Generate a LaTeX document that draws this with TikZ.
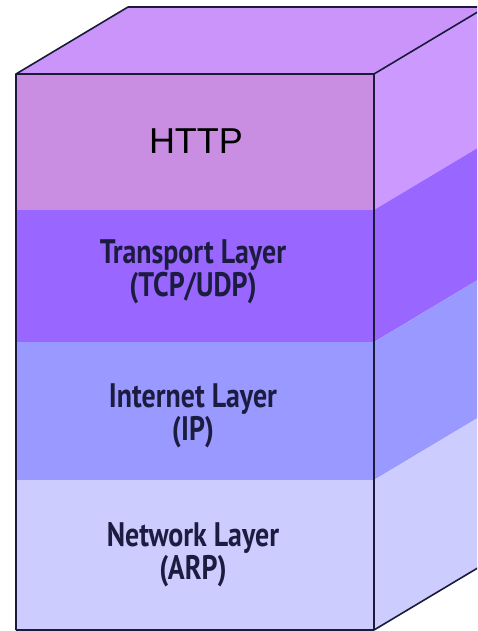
\documentclass[tikz,border=0pt]{standalone}
\usepackage{fontspec}
\usepackage{xcolor}
\setmainfont{Liberation Sans}
\newfontfamily\layerfont[FakeStretch=0.82]{PT Sans}

\definecolor{edgeblue}{RGB}{26,26,58}
\definecolor{labelblue}{RGB}{28,28,64}
\definecolor{topface}{RGB}{202,148,250}
\definecolor{httpfront}{RGB}{201,142,226}
\definecolor{httpside}{RGB}{204,153,255}
\definecolor{tcpface}{RGB}{153,102,255}
\definecolor{ipface}{RGB}{153,153,255}
\definecolor{arpface}{RGB}{204,204,255}

\begin{document}
\begin{tikzpicture}[x=1pt,y=-1pt,line width=1.6pt,
    edge/.style={draw=edgeblue,line join=round},
    applabel/.style={font=\fontsize{36}{40}\selectfont,text=black},
    layerlabel/.style={font=\layerfont\bfseries\fontsize{34}{33}\selectfont,text=labelblue,align=center}]
  \useasboundingbox (0,0) rectangle (477,631);
  \clip (0,0) rectangle (477,631);

  % top face
  \fill[topface] (16,74) -- (128,7) -- (486,7) -- (374,74) -- cycle;

  % front face, one band per layer
  \fill[httpfront] (16,74)  rectangle (374,210);
  \fill[tcpface]   (16,210) rectangle (374,342);
  \fill[ipface]    (16,342) rectangle (374,480);
  \fill[arpface]   (16,480) rectangle (374,630);

  % side face
  \fill[httpside] (374,74)  -- (486,7)   -- (486,143) -- (374,210) -- cycle;
  \fill[tcpface]  (374,210) -- (486,143) -- (486,275) -- (374,342) -- cycle;
  \fill[ipface]   (374,342) -- (486,275) -- (486,413) -- (374,480) -- cycle;
  \fill[arpface]  (374,480) -- (486,413) -- (486,563) -- (374,630) -- cycle;

  % outline
  \draw[edge] (16,630) -- (16,74) -- (128,7) -- (486,7);
  \draw[edge] (16,74) -- (374,74) -- (486,7);
  \draw[edge] (374,74) -- (374,630) -- (486,563);
  \draw[edge] (16,630) -- (374,630);

  \node[applabel]   (http) at (196,141) {HTTP};
  \node[layerlabel] (tcp)  at (193,272) {Transport Layer\\(TCP/UDP)};
  \node[layerlabel] (ip)   at (193,416) {Internet Layer\\(IP)};
  \node[layerlabel] (arp)  at (193,555) {Network Layer\\(ARP)};
\end{tikzpicture}
\end{document}
